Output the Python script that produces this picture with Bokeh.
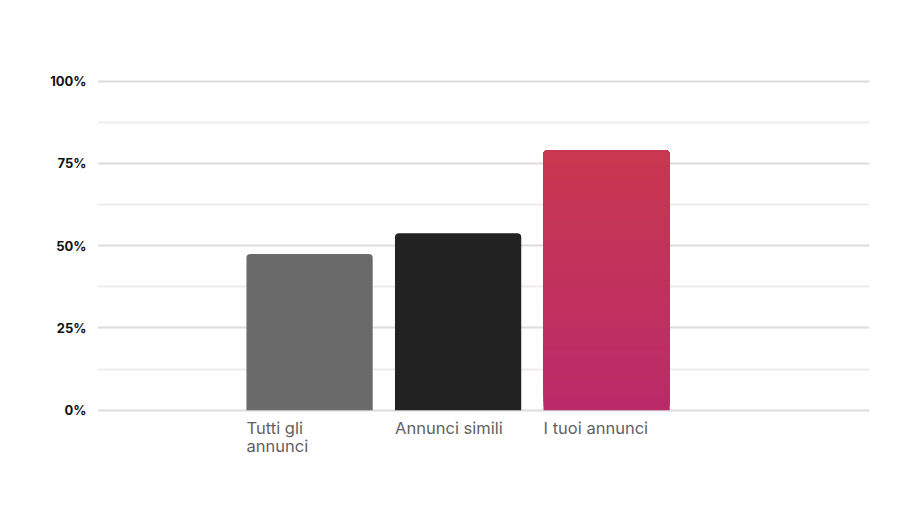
from bokeh.plotting import figure
from bokeh.models import ColumnDataSource, FixedTicker, PrintfTickFormatter, Range1d
from bokeh.core.properties import value
from bokeh.embed import file_html
from bokeh.resources import INLINE

# ---- data ----
categories = ["Tutti gli\nannunci", "Annunci simili", "I tuoi annunci"]
values = [47.5, 53.8, 79.0]
solid_colors = ["#6a6a6a", "#222222"]
grad_top = (200, 56, 80)
grad_bottom = (187, 42, 104)
y_ticks = [0, 25, 50, 75, 100]
y_minor = [12.5, 37.5, 62.5, 87.5]

xs = list(range(len(categories)))
W = 0.85

p = figure(width=912, height=528, output_backend="svg", toolbar_location=None,
           x_range=Range1d(-1.428, 3.77), y_range=Range1d(-18, 100.5),
           min_border_left=97, min_border_right=43, min_border_top=79,
           min_border_bottom=59, background_fill_color="white",
           border_fill_color="white", outline_line_color=None)

# solid bars
solid = ColumnDataSource(dict(x=xs[:2], top=values[:2], color=solid_colors))
p.vbar(x="x", top="top", bottom=0, width=W, source=solid, fill_color="color",
       line_color=None, border_radius=(4, 4, 0, 0))

# gradient bar (third): overlapping slices, each reaching the top
N = 60
v = values[2]
gx, gb, gt, gc = [], [], [], []
for k in range(N):
    t = k / (N - 1)
    c = tuple(round(grad_bottom[j] + (grad_top[j] - grad_bottom[j]) * t) for j in range(3))
    gx.append(xs[2])
    gb.append(v * k / N)
    gt.append(v)
    gc.append("#%02x%02x%02x" % c)
p.vbar(x=gx, bottom=gb, top=gt, width=W, fill_color=gc, line_color=None,
       border_radius=(4, 4, 0, 0))

# axes
p.xaxis.visible = False
ya = p.yaxis[0]
ya.ticker = FixedTicker(ticks=y_ticks)
ya.formatter = PrintfTickFormatter(format="%d%%")
ya.axis_line_color = None
ya.major_tick_line_color = None
ya.minor_tick_line_color = None
ya.major_tick_out = 0
ya.major_tick_in = 0
ya.major_label_standoff = 11
ya.major_label_text_font = "Inter"
ya.major_label_text_font_style = "bold"
ya.major_label_text_font_size = "13px"
ya.major_label_text_color = "#111111"
ya.major_label_text_baseline = "top"

p.xgrid.visible = False
p.ygrid.ticker = FixedTicker(ticks=y_ticks, minor_ticks=y_minor)
p.ygrid.grid_line_color = "#dcdcdc"
p.ygrid.grid_line_width = 2
p.ygrid.minor_grid_line_color = "#ededed"
p.ygrid.minor_grid_line_width = 2
p.ygrid.level = "underlay"

# category labels
lab = ColumnDataSource(dict(x=xs, y=[0] * len(xs), text=categories))
p.text(x="x", y="y", text="text", source=lab, x_offset=-63, y_offset=8,
       text_align="left", text_baseline="top", text_font=value("Inter"),
       text_font_size="16.5px", text_color="#626262", text_line_height=0.9)

open("out.html", "w").write(file_html(p, INLINE))
